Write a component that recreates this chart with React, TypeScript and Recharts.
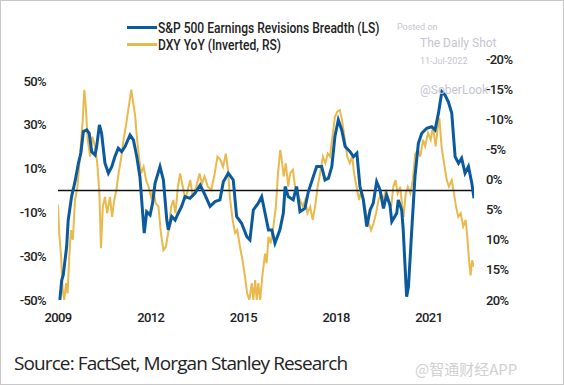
import React from 'react';
import {
  LineChart,
  Line,
  XAxis,
  YAxis,
  ReferenceLine,
} from 'recharts';

// S&P 500 earnings revisions breadth (left axis, %)
const breadthDates = [
  2009.06, 2009.12, 2009.17, 2009.28, 2009.33, 2009.44, 2009.55, 2009.66, 2009.74, 2009.82,
  2009.93, 2010.01, 2010.09, 2010.2, 2010.25, 2010.34, 2010.41, 2010.52, 2010.63, 2010.74,
  2010.84, 2010.95, 2011.06, 2011.17, 2011.33, 2011.44, 2011.55, 2011.65, 2011.74, 2011.79,
  2011.87, 2011.98, 2012.06, 2012.14, 2012.3, 2012.41, 2012.52, 2012.57, 2012.68, 2012.79,
  2012.89, 2013.0, 2013.11, 2013.27, 2013.43, 2013.6, 2013.76, 2013.92, 2014.08, 2014.24,
  2014.35, 2014.51, 2014.67, 2014.78, 2014.94, 2015.11, 2015.21, 2015.32, 2015.48, 2015.59,
  2015.7, 2015.81, 2015.92, 2016.02, 2016.18, 2016.29, 2016.35, 2016.45, 2016.61, 2016.72,
  2016.83, 2016.99, 2017.1, 2017.26, 2017.37, 2017.53, 2017.64, 2017.75, 2017.86, 2017.96,
  2018.07, 2018.18, 2018.29, 2018.45, 2018.56, 2018.67, 2018.77, 2018.88, 2018.99, 2019.1,
  2019.2, 2019.31, 2019.42, 2019.53, 2019.63, 2019.74, 2019.8, 2019.96, 2020.01, 2020.12,
  2020.17, 2020.23, 2020.28, 2020.34, 2020.44, 2020.55, 2020.66, 2020.77, 2020.93, 2021.09,
  2021.2, 2021.31, 2021.42, 2021.52, 2021.63, 2021.74, 2021.79, 2021.85, 2021.96, 2022.06,
  2022.17, 2022.28, 2022.39, 2022.46,
];
const breadthValues = [
  -50, -41, -38.6, -25.6, -13.5, -2.8, 4.0, 12.4, 17.1, 26.9,
  27.6, 26.1, 17.7, 16.2, 20.0, 29.9, 26.1, 12.4, 7.9, 10.9,
  15.4, 19.3, 17.7, 20.0, 25.3, 23.1, 15.4, 6.3, -10.4, -19.5,
  -9.7, -11.2, -5.8, 3.3, 10.9, 4.8, -13.5, -18.0, -11.9, -13.5,
  -10.4, -7.3, -2.8, -3.6, -1.3, 2.5, -2.1, -7.3, -5.1, -4.3,
  4.0, 7.9, 4.8, -11.9, -15.0, -21.1, -22.6, -8.9, -5.8, -2.8,
  -10.4, -18.0, -18.0, -24.1, -18.0, -10.4, 1.8, -2.8, -4.3, 1.8,
  -9.7, -8.2, -0.6, 6.3, 10.9, 10.9, 4.8, 5.6, 10.9, 24.6,
  32.2, 27.6, 20.0, 17.7, 15.4, 17.0, 1.8, -4.3, -16.5, -8.9,
  -5.8, 4.0, 0.2, -8.2, -2.1, -6.6, -14.2, -10.4, -4.3, -8.9,
  -18.0, -34.8, -48.5, -43.9, -19.5, 6.3, 21.5, 26.1, 28.4, 29.1,
  27.6, 35.3, 45.1, 43.6, 40.5, 35.3, 26.1, 15.4, 12.4, 14.7,
  7.9, 10.9, 3.3, -3.6,
];

// DXY year-over-year (right axis, inverted, %)
const dxyDates = [
  2009.0, 2009.04, 2009.1, 2009.15, 2009.2, 2009.26, 2009.31, 2009.37, 2009.42, 2009.48,
  2009.55, 2009.63, 2009.71, 2009.8, 2009.85, 2009.9, 2009.96, 2010.04, 2010.11, 2010.2,
  2010.27, 2010.34, 2010.39, 2010.45, 2010.52, 2010.59, 2010.68, 2010.75, 2010.82, 2010.89,
  2010.96, 2011.05, 2011.12, 2011.21, 2011.29, 2011.37, 2011.42, 2011.5, 2011.55, 2011.62,
  2011.69, 2011.77, 2011.85, 2011.93, 2012.01, 2012.08, 2012.16, 2012.25, 2012.33, 2012.41,
  2012.49, 2012.58, 2012.66, 2012.73, 2012.8, 2012.88, 2012.95, 2013.04, 2013.12, 2013.2,
  2013.28, 2013.36, 2013.47, 2013.58, 2013.66, 2013.74, 2013.85, 2013.96, 2014.07, 2014.16,
  2014.25, 2014.34, 2014.43, 2014.5, 2014.56, 2014.65, 2014.73, 2014.8, 2014.89, 2014.97,
  2015.05, 2015.12, 2015.19, 2015.27, 2015.32, 2015.38, 2015.43, 2015.48, 2015.54, 2015.62,
  2015.7, 2015.75, 2015.81, 2015.88, 2015.97, 2016.05, 2016.11, 2016.19, 2016.24, 2016.3,
  2016.37, 2016.45, 2016.51, 2016.6, 2016.67, 2016.75, 2016.83, 2016.92, 2017.0, 2017.07,
  2017.16, 2017.24, 2017.32, 2017.4, 2017.48, 2017.57, 2017.65, 2017.73, 2017.8, 2017.88,
  2017.96, 2018.04, 2018.12, 2018.19, 2018.28, 2018.36, 2018.44, 2018.52, 2018.58, 2018.66,
  2018.74, 2018.82, 2018.9, 2018.97, 2019.06, 2019.13, 2019.21, 2019.29, 2019.37, 2019.45,
  2019.53, 2019.61, 2019.7, 2019.78, 2019.85, 2019.92, 2019.99, 2020.07, 2020.14, 2020.18,
  2020.25, 2020.32, 2020.4, 2020.48, 2020.56, 2020.65, 2020.72, 2020.81, 2020.88, 2020.97,
  2021.06, 2021.13, 2021.22, 2021.28, 2021.34, 2021.41, 2021.49, 2021.58, 2021.65, 2021.74,
  2021.81, 2021.88, 2021.95, 2022.03, 2022.11, 2022.19, 2022.25, 2022.3, 2022.35, 2022.4,
  2022.46,
];
const dxyValues = [
  4.2, 8.9, 12.8, 18.3, 20, 17.2, 18.9, 12.3, 8.4, 10.0,
  3.4, 1.2, -3.8, -9.9, -14.9, -12.1, -6.6, -3.8, -7.1, -5.5,
  -2.7, 2.3, 11.4, 4.5, 2.9, 5.6, 2.9, 6.2, 3.4, 1.7,
  -1.0, -3.8, -6.6, -9.3, -12.1, -14.9, -13.2, -10.4, -7.1, -3.8,
  -1.0, -2.1, 0.1, 1.2, 2.9, 1.7, 3.9, 4.5, 8.9, 11.7,
  11.2, 8.4, 4.5, 3.4, 5.6, 1.2, -1.0, 1.2, 3.4, 1.7,
  0.1, 2.9, 1.2, -1.0, 0.7, -0.5, 1.2, 1.7, -1.0, -3.8,
  -3.3, -2.1, -4.3, -1.6, 2.9, 6.7, 8.9, 8.4, 11.2, 13.4,
  16.1, 18.9, 20, 17.2, 20, 16.7, 20, 17.2, 20, 15.6,
  12.3, 13.9, 9.5, 10.6, 7.8, 4.5, -0.5, -4.9, -3.3, -0.5,
  -2.7, 1.2, -1.0, -1.6, 1.2, 2.3, 3.4, 4.5, 3.4, 5.6,
  4.5, 6.7, 4.5, 1.2, -1.0, -3.8, -2.7, -4.3, -3.8, -7.1,
  -10.4, -11.3, -11.5, -9.9, -6.6, -3.8, -2.7, -3.8, -1.0, 1.2,
  3.4, 1.7, 3.9, 5.6, 7.3, 8.4, 7.3, 5.6, 3.4, 2.3,
  3.4, 1.7, 3.4, 4.5, 1.2, 0.1, 2.3, 1.2, 4.5, 6.2,
  2.3, 1.2, 2.3, 0.1, -4.3, -4.9, -3.8, -6.6, -5.5, -7.7,
  -6.6, -8.8, -5.5, -8.3, -10.2, -5.5, -2.7, 0.1, 1.2, 0.1,
  2.3, 4.5, 6.2, 5.6, 7.8, 6.7, 10.0, 13.4, 15.9, 13.4,
  14.5,
];

const yearTicks = [2009, 2012, 2015, 2018, 2021];
const leftTicks = [-50, -30, -10, 10, 30, 50];
const rightTicks = [-20, -15, -10, -5, 0, 5, 10, 15, 20];

const breadthData = breadthDates.map((t, i) => ({ t, breadth: breadthValues[i] }));
const dxyData = dxyDates.map((t, i) => ({ t, dxy: dxyValues[i] }));

const BLUE = '#0b5a9e';
const GOLD = '#e9b94d';
const FONT = 'Roboto, sans-serif';

const tickStyle = { fontSize: 13, fill: '#222', fontFamily: FONT, letterSpacing: -0.6, fontWeight: 500 };

const legendItems = [
  { label: 'S&P 500 Earnings Revisions Breadth (LS)', color: BLUE, w: 3 },
  { label: 'DXY YoY (Inverted, RS)', color: GOLD, w: 2.5 },
];

const wm = { position: 'absolute' as const, color: '#c4c4d4', fontFamily: 'Roboto, sans-serif', whiteSpace: 'nowrap' as const };

export default function App() {
  return (
    <div
      style={{
        position: 'absolute',
        left: 0,
        top: 0,
        width: 564,
        height: 385,
        background: '#fff',
        border: '1px solid #c8c8c8',
        boxSizing: 'border-box',
        overflow: 'hidden',
      }}
    >
      <div style={{ position: 'absolute', left: -1, top: -1 }}>
        <LineChart width={564} height={385} margin={{ top: 59, right: 0, left: 0, bottom: 60 }}>
          <XAxis
            dataKey="t"
            type="number"
            domain={[2009, 2022.46]}
            ticks={yearTicks}
            axisLine={false}
            tickLine={false}
            tickMargin={7}
            height={25}
            tick={tickStyle}
            allowDataOverflow
          />
          <YAxis
            yAxisId="left"
            domain={[-50, 60]}
            ticks={leftTicks}
            width={58}
            axisLine={false}
            tickLine={false}
            tickMargin={6}
            tick={tickStyle}
            tickFormatter={(v: number) => `${v}%`}
            allowDataOverflow
          />
          <YAxis
            yAxisId="right"
            orientation="right"
            domain={[-20, 20]}
            reversed
            ticks={rightTicks}
            width={90}
            axisLine={false}
            tickLine={false}
            tickMargin={6}
            tick={tickStyle}
            tickFormatter={(v: number) => `${v}%`}
            allowDataOverflow
          />
          <Line
            yAxisId="right"
            data={dxyData}
            dataKey="dxy"
            stroke={GOLD}
            strokeWidth={2}
            dot={false}
            isAnimationActive={false}
          />
          <ReferenceLine yAxisId="left" y={0} stroke="#111" strokeWidth={1.5} />
          <Line
            yAxisId="left"
            data={breadthData}
            dataKey="breadth"
            stroke={BLUE}
            strokeWidth={3}
            dot={false}
            isAnimationActive={false}
          />
        </LineChart>
      </div>
      <div
        style={{
          position: 'absolute',
          left: 126,
          top: 18,
          fontFamily: FONT,
          fontSize: 14,
          fontWeight: 500,
          color: '#222',
          transform: 'scaleX(0.86)',
          transformOrigin: 'left top',
          whiteSpace: 'nowrap',
        }}
      >
        {legendItems.map((item) => (
          <div key={item.label} style={{ display: 'flex', alignItems: 'center', height: 17 }}>
            <div style={{ width: 35, height: item.w, background: item.color, marginRight: 1 }} />
            <span>{item.label}</span>
          </div>
        ))}
      </div>
      <div style={{ ...wm, left: 396, top: 21, fontSize: 9 }}>Posted on</div>
      <div style={{ ...wm, left: 419, top: 35, fontSize: 12 }}>The Daily Shot</div>
      <div style={{ ...wm, left: 419, top: 55, fontSize: 9 }}>11-Jul-2022</div>
      <div style={{ ...wm, left: 419, top: 82, fontSize: 12 }}>@SoberLook</div>
      <div
        style={{
          position: 'absolute',
          left: 13,
          top: 349,
          fontSize: 19,
          color: '#222',
          fontFamily: "'Open Sans', sans-serif",
          letterSpacing: -0.9,
          whiteSpace: 'nowrap',
        }}
      >
        Source: FactSet, Morgan Stanley Research
      </div>
      <div
        style={{
          position: 'absolute',
          left: 414,
          top: 357,
          fontSize: 15,
          color: '#d0d0d0',
          fontFamily: "'Noto Sans CJK SC', sans-serif",
        }}
      >
        @智通财经APP
      </div>
    </div>
  );
}
